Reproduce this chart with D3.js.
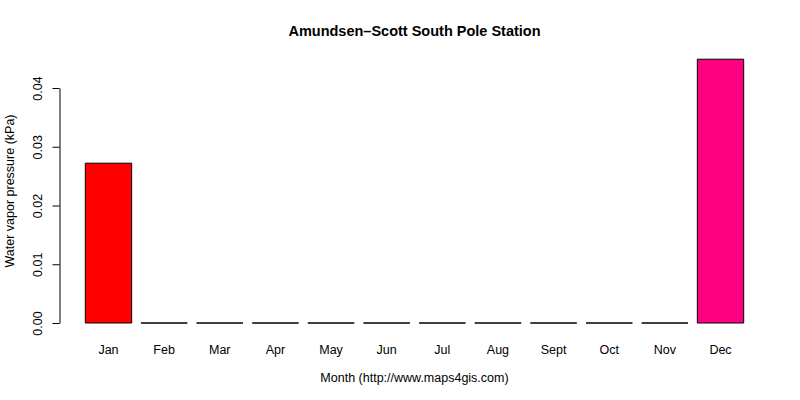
<!DOCTYPE html>
<html>
<head>
<meta charset="utf-8">
<script src="https://cdn.jsdelivr.net/npm/d3@7"></script>
<style>
  body { margin: 0; background: #fff; }
  text { font-family: "Liberation Sans", Arial, sans-serif; fill: #000; }
</style>
</head>
<body>
<svg id="chart" width="800" height="400"></svg>
<script>
// monthly water vapor pressure (kPa)
const months = ["Jan", "Feb", "Mar", "Apr", "May", "Jun", "Jul", "Aug", "Sept", "Oct", "Nov", "Dec"]
const pressure = [0.0272, 0, 0, 0, 0, 0, 0, 0, 0, 0, 0, 0.0449]
const barColors = ["#FF0000", "#FF0000", "#FF0000", "#FF0000", "#FF0000", "#FF0000",
                   "#FF0000", "#FF0000", "#FF0000", "#FF0000", "#FF0000", "#FF0080"]
const yTicks = [0, 0.01, 0.02, 0.03, 0.04]

const svg = d3.select("#chart")

const xScale = d3.scaleBand()
    .domain(months)
    .range([85.3, 743.7])
    .paddingInner(1 / 6)
    .paddingOuter(0)

const yScale = d3.scaleLinear()
    .domain([0, 0.04])
    .range([323, 88])

// bars as closed paths so zero-height bars still show their outline
const barPath = (d, i) => {
    const p = d3.path()
    const x0 = xScale(d), x1 = x0 + xScale.bandwidth()
    const y0 = yScale(0), y1 = yScale(pressure[i])
    p.moveTo(x0, y0)
    p.lineTo(x0, y1)
    p.lineTo(x1, y1)
    p.lineTo(x1, y0)
    p.closePath()
    return p.toString()
}

svg.append("g")
    .selectAll("path")
    .data(months)
    .enter()
    .append("path")
    .attr("d", barPath)
    .attr("fill", (d, i) => barColors[i])
    .attr("stroke", "#000")
    .attr("stroke-width", 1)

// month labels
svg.append("g")
    .selectAll("text")
    .data(months)
    .enter()
    .append("text")
    .attr("x", d => xScale(d) + xScale.bandwidth() / 2)
    .attr("y", 353.5)
    .attr("text-anchor", "middle")
    .attr("font-size", "12.5px")
    .text(d => d)

// y axis
const yAxis = svg.append("g")
    .attr("transform", "translate(59.5,0)")
    .call(d3.axisLeft(yScale).tickValues(yTicks).tickSize(7).tickSizeOuter(0).tickFormat(d3.format(".2f")))

yAxis.select(".domain").attr("stroke", "#000")
yAxis.selectAll(".tick line").attr("stroke", "#000")
yAxis.selectAll(".tick text")
    .attr("x", null)
    .attr("dy", null)
    .attr("transform", "translate(-18,0) rotate(-90)")
    .attr("text-anchor", "middle")
    .attr("font-size", "12.5px")
    .attr("font-family", "Liberation Sans, Arial, sans-serif")
    .attr("fill", "#000")

// title and axis labels
svg.append("text")
    .attr("x", 414.5)
    .attr("y", 36)
    .attr("text-anchor", "middle")
    .attr("font-size", "14.5px")
    .attr("font-weight", "bold")
    .text("Amundsen–Scott South Pole Station")

svg.append("text")
    .attr("x", 414.5)
    .attr("y", 382)
    .attr("text-anchor", "middle")
    .attr("font-size", "12.5px")
    .text("Month (http://www.maps4gis.com)")

svg.append("text")
    .attr("transform", "translate(14,191) rotate(-90)")
    .attr("text-anchor", "middle")
    .attr("font-size", "12.5px")
    .text("Water vapor pressure (kPa)")
</script>
</body>
</html>
